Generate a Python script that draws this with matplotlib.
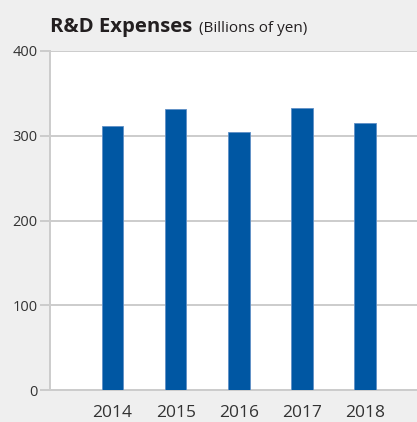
import matplotlib.pyplot as plt

years = ["2014", "2015", "2016", "2017", "2018"]
expenses = [311, 332, 305, 333, 315]

plt.rcParams['font.family'] = ['Open Sans', 'DejaVu Sans']

fig = plt.figure(figsize=(4.17, 4.22), dpi=100)
fig.patch.set_facecolor("#efefef")
ax = fig.add_axes([50 / 417, 1 - 390 / 422, 1 - 50 / 417, 339 / 422])
ax.set_facecolor("white")

x = range(len(years))
ax.bar(x, expenses, width=0.34, color="#0057a3", edgecolor="#5f8fc6", linewidth=0.6, zorder=3)

ax.set_xlim(-0.99, 4.82)
ax.set_ylim(0, 400)
ax.set_yticks([0, 100, 200, 300, 400])
ax.set_xticks(list(x))
ax.set_xticklabels(years)
ax.yaxis.grid(True, color="#cccccc", linewidth=1.4, zorder=0)
ax.set_axisbelow(True)

for s in ["top", "right"]:
    ax.spines[s].set_visible(False)
ax.spines["left"].set_color("#cccccc")
ax.spines["left"].set_linewidth(1.4)
ax.spines["bottom"].set_color("#cccccc")
ax.spines["bottom"].set_linewidth(1.4)

ax.tick_params(axis="y", length=7, width=1.4, color="#cccccc", labelsize=10.5,
               labelcolor="#333333", pad=2)
ax.tick_params(axis="x", length=0, labelsize=12.5, labelcolor="#333333", pad=10.5)

fig.text(50 / 417, 1 - 32 / 422, "R&D Expenses", fontsize=14.6, fontweight="bold",
         color="#231f20", ha="left", va="baseline")
fig.text(199 / 417, 1 - 32 / 422, "(Billions of yen)", fontsize=11,
         color="#231f20", ha="left", va="baseline")

fig.savefig("out.png", dpi=100, facecolor=fig.get_facecolor())
